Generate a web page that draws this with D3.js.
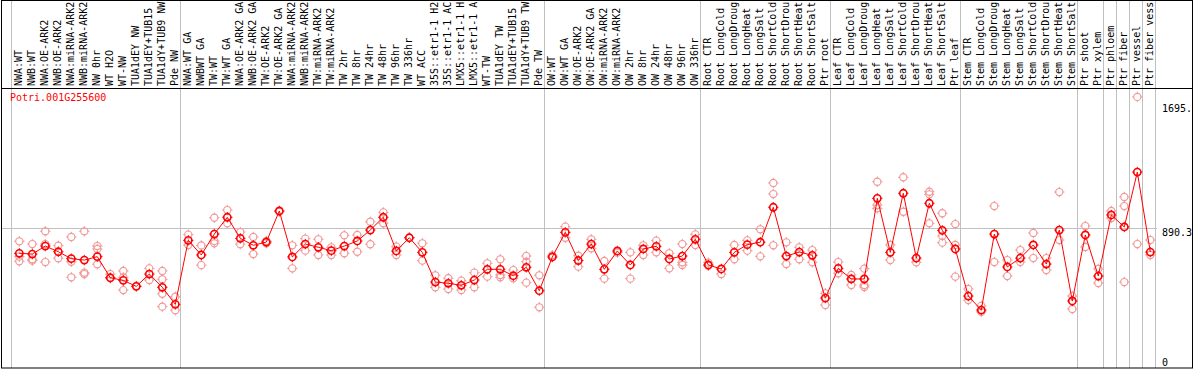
<!DOCTYPE html>
<html><head><meta charset="utf-8">
<script src="https://cdn.jsdelivr.net/npm/d3@7"></script>
<style>body{margin:0;background:#fff}svg{display:block}text{font-family:"DejaVu Sans Mono",monospace;font-size:10px}</style>
</head><body><svg id="c" width="1194" height="370"></svg>
<script>
const title = "Potri.001G255600";
const categories = ["NWA:WT","NWB:WT","NWA:OE-ARK2","NWB:OE-ARK2","NWA:miRNA-ARK2","NWB:miRNA-ARK2","NW 0hr","WT H2O","WT-NW","TUA1dEY NW","TUA1dEY+TUB15","TUA1dY+TUB9 NW","Pde NW",
"NWA:WT GA","NWBWT GA","TW:WT","TW:WT GA","NWA:OE-ARK2 GA","NWB:OE-ARK2 GA","TW:OE-ARK2","TW:OE-ARK2 GA","NWA:miRNA-ARK2","NWB:miRNA-ARK2","TW:miRNA-ARK2","TW:miRNA-ARK2","TW 2hr","TW 8hr","TW 24hr","TW 48hr","TW 96hr","TW 336hr","WT ACC","35S::etr1-1 H2","35S::etr1-1 AC","LMX5::etr1-1 H","LMX5::etr1-1 A","WT-TW","TUA1dEY TW","TUA1dEY+TUB15","TUA1dY+TUB9 TW","Pde TW",
"OW:WT","OW:WT GA","OW:OE-ARK2","OW:OE-ARK2 GA","OW:miRNA-ARK2","OW:miRNA-ARK2","OW 2hr","OW 8hr","OW 24hr","OW 48hr","OW 96hr","OW 336hr",
"Root CTR","Root LongCold","Root LongDroug","Root LongHeat","Root LongSalt","Root ShortCold","Root ShortDrou","Root ShortHeat","Root ShortSalt","Ptr root",
"Leaf CTR","Leaf LongCold","Leaf LongDroug","Leaf LongHeat","Leaf LongSalt","Leaf ShortCold","Leaf ShortDrou","Leaf ShortHeat","Leaf ShortSalt","Ptr leaf",
"Stem CTR","Stem LongCold","Stem LongDroug","Stem LongHeat","Stem LongSalt","Stem ShortCold","Stem ShortDrou","Stem ShortHeat","Stem ShortSalt","Ptr shoot",
"Ptr xylem","Ptr phloem","Ptr fiber","Ptr vessel","Ptr fiber vess"];
const means = [726,721,773,736,691,682,704,567,550,511,591,505,394,
810,715,851,960,823,778,799,1001,702,786,765,743,773,806,877,960,741,827,732,539,531,518,552,622,622,580,635,483,
702,862,679,786,622,741,650,754,771,689,708,817,
650,624,732,782,798,1025,708,734,713,435,
628,559,559,1083,732,1116,695,1051,875,754,
448,357,851,637,695,780,656,877,416,845,
578,975,897,1254,734];
const replicates = [[804,704,674],[786,687,678],[869,786,669],[775,694],[832,671,570],[869,600,591],[773,754,655],[591,564],[611,570,487],[513],[628,552],[611,557,463,379],[444,356],
[847,780],[777,649],[957,806,791],[1007,921],[864,785],[832,721],[806,791],[996],[778,628],[821,743],[817,715],[765,715],[843,726],[845,736],[931,785],[992,921],[769,715],[827],[791,678],[583,505],[564,494],[548,487],[600,505],[661,574],[687,585,570],[617,564],[708,671,535],[583,375],
[713],[899,827],[710,639],[817,758],[676,561],[730],[732,561],[778,715],[808,732],[726,628],[786,667,650],[849,780],
[665,645],[591],[780,687],[810,743],[882,706],[1183,1111,778],[797,656],[765,687],[747,667],[466,390],
[669,596],[585,520],[626,520,507],[1191,1040,1018],[780,682],[1220,996],[667],[1126,1109,921],[986,838,795],[916,780,574],
[494,422],[384,345],[1033,669],[682,578],[747,669],[858,695],[695,617],[1124,812],[448,364],[903,767],
[624,533],[1001,955],[1092,1033,539],[1742,786],[812,715]];
const groupStarts = [0,13,41,53,63,73,82,84,85,86,87,88];
const tickValues = [0, 890.3, 1695];
const tickLabels = ["0","890.3","1695."];

const svg = d3.select("#c");
const x = d3.scaleBand().domain(d3.range(categories.length)).range([12.8, 12.8 + 13*categories.length]);
const y = d3.scaleLinear().domain([0, 890.3]).range([365, 228]);
const cx = i => x(i) + x.bandwidth()/2;
const gx = d => Math.round(x.step()*d + 12.8 - 1.5) + 0.5;

// vertical group lines
svg.selectAll("line.g").data(groupStarts).enter().append("line")
  .attr("x1", gx).attr("x2", gx)
  .attr("y1", 0).attr("y2", 368).attr("stroke", "#c0c0c0").attr("stroke-width", 1);
// horizontal grid at middle tick
svg.append("line").attr("x1", 1).attr("x2", 1157).attr("y1", Math.round(y(890.3)) + 0.5).attr("y2", Math.round(y(890.3)) + 0.5)
  .attr("stroke", "#c0c0c0");

// borders
svg.append("rect").attr("x", 1.5).attr("y", 0.5).attr("width", 1191).attr("height", 367.5).attr("fill", "none").attr("stroke", "#000");
svg.append("line").attr("x1", 1).attr("x2", 1193).attr("y1", 88.5).attr("y2", 88.5).attr("stroke", "#000");

// category labels
svg.selectAll("text.cat").data(categories).enter().append("text")
  .attr("transform", (d, i) => `translate(${cx(i) + 2.5},86) rotate(-90)`)
  .attr("fill", "#000").text(d => d);

// right tick labels
svg.selectAll("text.tk").data(tickValues).enter().append("text")
  .attr("x", 1162).attr("y", d => Math.min(y(d) + 8, 366)).attr("fill", "#000")
  .text((d, i) => tickLabels[i]);

// title
svg.append("text").attr("x", 10).attr("y", 101).attr("fill", "#ff0000").text(title);

function marker(g, r, color, sw) {
  g.append("circle").attr("r", r).attr("fill", "none").attr("stroke", color).attr("stroke-width", sw);
  const t = r + 1.6;
  g.append("path").attr("d", `M0,${-t}V${-r+0.5}M0,${t}V${r-0.5}M${-t},0H${-r+0.5}M${t},0H${r-0.5}`)
    .attr("stroke", color).attr("stroke-width", 1);
}

// replicates
const repPts = [];
replicates.forEach((arr, i) => arr.forEach(v => repPts.push([i, v])));
svg.selectAll("g.rep").data(repPts).enter().append("g")
  .attr("transform", d => `translate(${cx(d[0])},${y(d[1])})`)
  .each(function () { marker(d3.select(this), 3.6, "#f09898", 1.1); });

// mean line
svg.append("path").datum(means)
  .attr("d", d3.line().x((d, i) => cx(i)).y(d => y(d)))
  .attr("fill", "none").attr("stroke", "#ff0000").attr("stroke-width", 1);

svg.selectAll("g.mean").data(means).enter().append("g")
  .attr("transform", (d, i) => `translate(${cx(i)},${y(d)})`)
  .each(function () { marker(d3.select(this), 3.6, "#ff0000", 1.6); });
</script></body></html>
